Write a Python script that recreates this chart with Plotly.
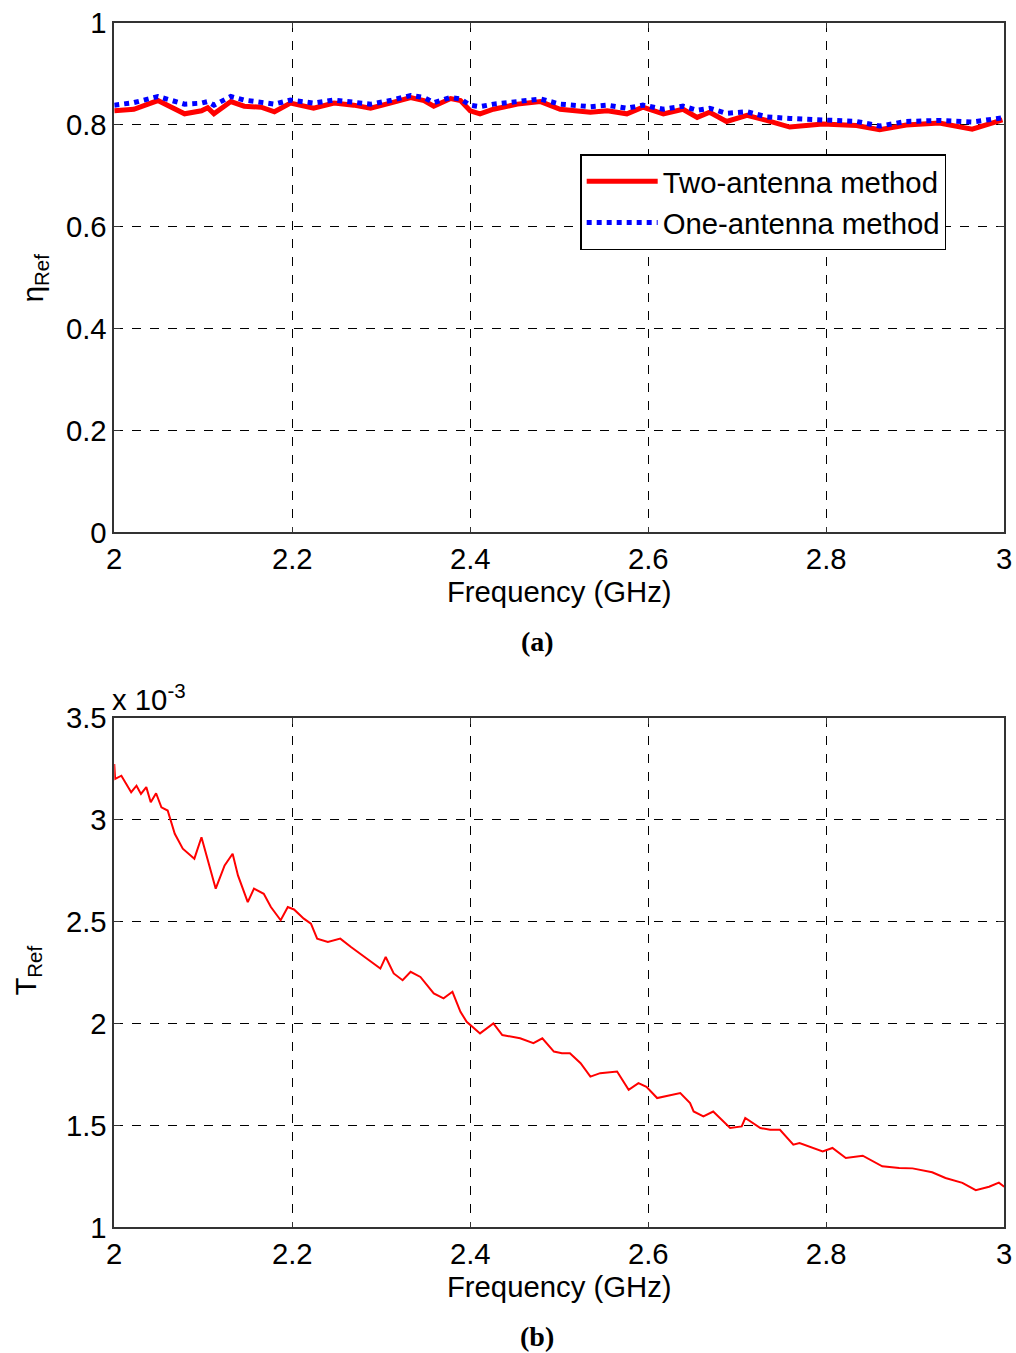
import plotly.graph_objects as go

# ---- panel (a): reflection efficiency ----
freq_a = [2.000, 2.022, 2.049, 2.060, 2.079, 2.098, 2.105, 2.112, 2.131, 2.146,
          2.165, 2.180, 2.198, 2.224, 2.247, 2.269, 2.288, 2.310, 2.333, 2.348,
          2.359, 2.378, 2.389, 2.400, 2.411, 2.426, 2.453, 2.479, 2.501, 2.535,
          2.554, 2.576, 2.594, 2.617, 2.639, 2.655, 2.669, 2.688, 2.711, 2.733,
          2.759, 2.796, 2.834, 2.860, 2.890, 2.927, 2.964, 2.998]
eta_two = [0.827, 0.830, 0.847, 0.837, 0.821, 0.827, 0.833, 0.821, 0.845, 0.836,
           0.834, 0.825, 0.842, 0.832, 0.842, 0.838, 0.832, 0.842, 0.853, 0.847,
           0.836, 0.851, 0.847, 0.827, 0.821, 0.830, 0.840, 0.845, 0.830, 0.824,
           0.827, 0.821, 0.834, 0.821, 0.830, 0.814, 0.824, 0.806, 0.818, 0.808,
           0.795, 0.801, 0.798, 0.790, 0.799, 0.803, 0.791, 0.809]
eta_one = [0.838, 0.843, 0.855, 0.850, 0.840, 0.842, 0.845, 0.838, 0.855, 0.848,
           0.843, 0.840, 0.848, 0.842, 0.848, 0.845, 0.840, 0.847, 0.857, 0.853,
           0.843, 0.853, 0.850, 0.838, 0.835, 0.840, 0.845, 0.850, 0.840, 0.835,
           0.838, 0.832, 0.838, 0.830, 0.836, 0.828, 0.832, 0.822, 0.825, 0.815,
           0.812, 0.808, 0.806, 0.797, 0.806, 0.808, 0.805, 0.813]

# ---- panel (b): T_Ref (in units of 1e-3) ----
freq_b = [2.000, 2.001, 2.008, 2.019, 2.025, 2.030, 2.036, 2.041, 2.047, 2.053,
          2.060, 2.068, 2.077, 2.090, 2.098, 2.105, 2.114, 2.124, 2.133, 2.139,
          2.150, 2.157, 2.168, 2.176, 2.187, 2.195, 2.202, 2.213, 2.221, 2.228,
          2.240, 2.254, 2.266, 2.299, 2.305, 2.314, 2.324, 2.333, 2.344, 2.359,
          2.370, 2.380, 2.389, 2.396, 2.411, 2.426, 2.436, 2.456, 2.471, 2.481,
          2.494, 2.503, 2.512, 2.524, 2.535, 2.546, 2.565, 2.578, 2.589, 2.598,
          2.610, 2.636, 2.647, 2.651, 2.662, 2.673, 2.692, 2.705, 2.709, 2.726,
          2.737, 2.748, 2.763, 2.770, 2.785, 2.796, 2.807, 2.822, 2.841, 2.863,
          2.882, 2.897, 2.919, 2.934, 2.953, 2.968, 2.983, 2.994, 3.000]
t_ref = [3.273, 3.200, 3.216, 3.135, 3.167, 3.127, 3.160, 3.086, 3.130, 3.061,
         3.045, 2.931, 2.858, 2.809, 2.914, 2.800, 2.662, 2.776, 2.833, 2.727,
         2.596, 2.662, 2.637, 2.572, 2.507, 2.572, 2.560, 2.515, 2.490, 2.417,
         2.400, 2.417, 2.376, 2.270, 2.327, 2.246, 2.213, 2.254, 2.229, 2.148,
         2.124, 2.156, 2.058, 2.009, 1.952, 2.001, 1.944, 1.928, 1.904, 1.928,
         1.863, 1.855, 1.855, 1.806, 1.740, 1.757, 1.765, 1.675, 1.708, 1.690,
         1.635, 1.659, 1.610, 1.569, 1.545, 1.569, 1.488, 1.496, 1.537, 1.488,
         1.479, 1.479, 1.406, 1.414, 1.390, 1.373, 1.390, 1.341, 1.352, 1.300,
         1.292, 1.290, 1.271, 1.243, 1.219, 1.183, 1.200, 1.220, 1.200]

x_ticks = [2, 2.2, 2.4, 2.6, 2.8, 3]

W, H = 1016, 1375

# Page-pixel layout helpers (target pixel -> paper fraction).
SX, BX = 0.9865, 6.5
SY, BY = 0.9785, 14.4


def px(x):
    return ((x - BX) / SX) / W


def py(y):
    return 1 - ((y - BY) / SY) / H


xdom = [px(113), px(1005)]
ydom_a = [py(531), py(20)]
ydom_b = [py(1228), py(717)]

font_main = dict(family="Liberation Sans, Arial, sans-serif", size=29.3, color="black")
font_cap = dict(family="Liberation Serif, Times New Roman, serif", size=28, color="black")

fig = go.Figure()
fig.add_trace(go.Scatter(x=freq_a, y=eta_two, mode="lines", name="Two-antenna method",
                         line=dict(color="#ff0000", width=5), xaxis="x", yaxis="y"))
fig.add_trace(go.Scatter(x=freq_a, y=eta_one, mode="lines", name="One-antenna method",
                         line=dict(color="#0000ff", width=5, dash="dot"), xaxis="x", yaxis="y"))
fig.add_trace(go.Scatter(x=freq_b, y=t_ref, mode="lines", showlegend=False,
                         line=dict(color="#ff0000", width=2), xaxis="x2", yaxis="y2"))

axis_common = dict(
    showline=True, linecolor="#333333", linewidth=1.5, mirror="ticks",
    ticks="inside", ticklen=6, tickcolor="#333333",
    showgrid=True, gridcolor="black", griddash="dash", gridwidth=1,
    zeroline=False, tickfont=font_main, ticklabeloverflow="allow",
)

fig.update_layout(
    width=W, height=H,
    margin=dict(l=0, r=0, t=0, b=0),
    paper_bgcolor="white", plot_bgcolor="white",
    xaxis=dict(domain=xdom, anchor="y", range=[2, 3], tickvals=x_ticks,
               title=dict(text="Frequency (GHz)", font=font_main, standoff=4), **axis_common),
    yaxis=dict(domain=ydom_a, anchor="x", range=[0, 1], dtick=0.2, **axis_common),
    xaxis2=dict(domain=xdom, anchor="y2", range=[2, 3], tickvals=x_ticks,
                title=dict(text="Frequency (GHz)", font=font_main, standoff=4), **axis_common),
    yaxis2=dict(domain=ydom_b, anchor="x2", range=[1, 3.5], dtick=0.5, **axis_common),
    legend=dict(x=px(580), y=py(152), xanchor="left", yanchor="top",
                bordercolor="black", borderwidth=1.5, bgcolor="white",
                font=font_main, itemwidth=71, tracegroupgap=0),
    annotations=[
        dict(text="η<sub>Ref</sub>", x=px(33), y=py(276), xref="paper", yref="paper",
             xanchor="center", yanchor="middle",
             textangle=-90, showarrow=False, font=font_main),
        dict(text="T<sub>Ref</sub>", x=px(26), y=py(970), xref="paper", yref="paper",
             xanchor="center", yanchor="middle",
             textangle=-90, showarrow=False, font=font_main),
        dict(text="x 10<sup>-3</sup>", x=px(109), y=py(697), xref="paper", yref="paper",
             xanchor="left", yanchor="middle", showarrow=False, font=font_main),
        dict(text="<b>(a)</b>", x=px(537), y=py(641), xref="paper", yref="paper",
             xanchor="center", yanchor="middle", showarrow=False, font=font_cap),
        dict(text="<b>(b)</b>", x=px(537), y=py(1337), xref="paper", yref="paper",
             xanchor="center", yanchor="middle", showarrow=False, font=font_cap),
    ],
)

fig.write_html("out.html", post_script="document.body.style.margin='0';"
                                       "document.body.style.overflow='hidden';")
